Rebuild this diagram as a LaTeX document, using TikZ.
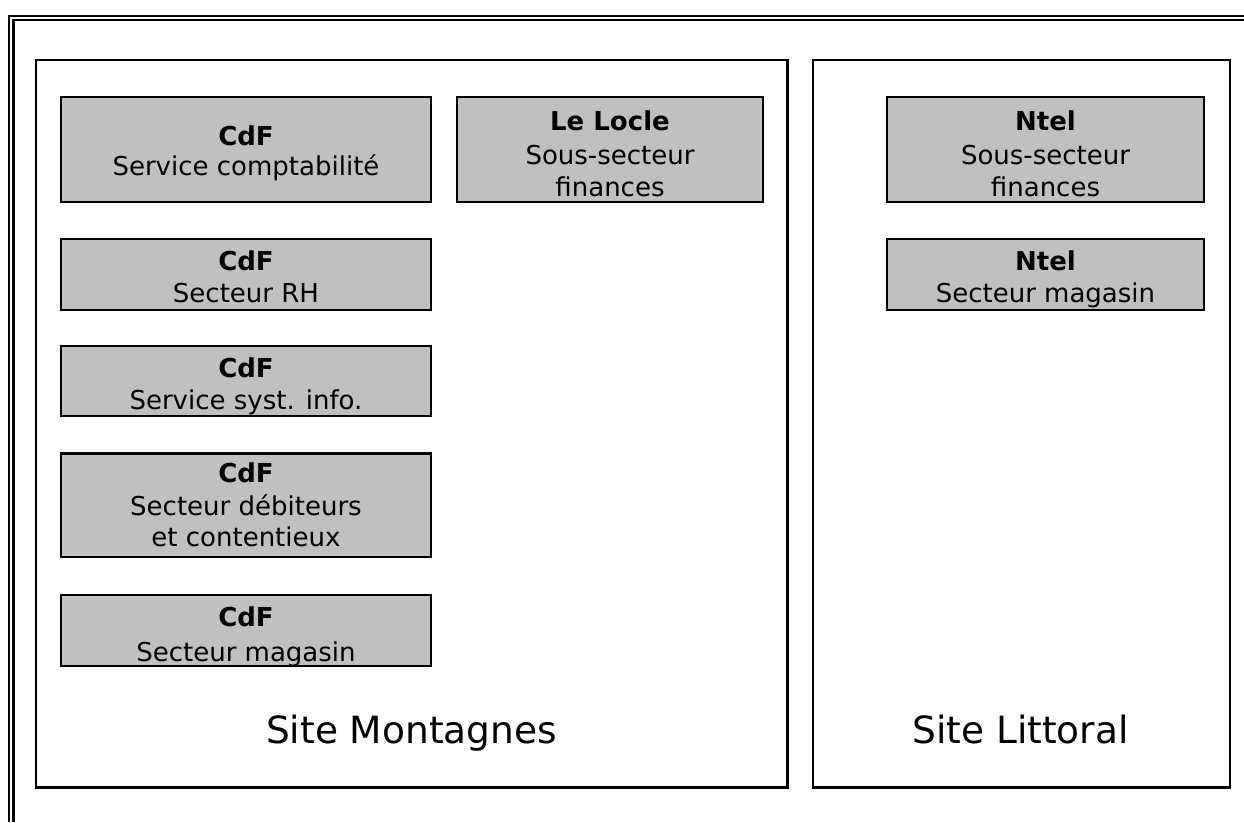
\documentclass[tikz,border=0pt]{standalone}
\usepackage{fontspec}
\setmainfont{DejaVu Sans}
\definecolor{boxgray}{HTML}{C0C0C0}
\tikzset{
  site/.style={draw, line width=2.5pt, inner sep=0pt, outer sep=0pt, anchor=north west},
  gbox/.style={draw, fill=boxgray, line width=2.5pt, inner sep=0pt, outer sep=0pt, anchor=north west},
  ln/.style={anchor=base, inner sep=0pt, font=\fontsize{26}{32}\selectfont},
  bl/.style={anchor=base, inner sep=0pt, font=\fontsize{26}{32}\selectfont\bfseries},
  sitelabel/.style={anchor=base, inner sep=0pt, font=\fontsize{37.5}{45}\selectfont},
  frame/.style={line width=2.5pt}
}
\begin{document}
\begin{tikzpicture}[x=1pt,y=-1pt]
\useasboundingbox (0,0) rectangle (1244,822);
% page frame (double line, top and left)
\coordinate (fo1) at (9,822);
\coordinate (fo2) at (9,16);
\coordinate (fo3) at (1244,16);
\coordinate (fi1) at (13.3,822);
\coordinate (fi2) at (13.3,20.2);
\coordinate (fi3) at (1244,20.2);
\draw[frame] (fo1) -- (fo2) -- (fo3);
\draw[frame] (fi1) -- (fi2) -- (fi3);
% sites
\node[site, minimum width=751.5pt, minimum height=727.5pt] (mont) at (36,60) {};
\node[site, minimum width=417pt, minimum height=727.5pt] (litt) at (813.2,60) {};
% grey boxes
\node[gbox, minimum width=370pt, minimum height=105pt] (comp) at (61,97) {};
\node[gbox, minimum width=306pt, minimum height=105pt] (locle) at (457,97) {};
\node[gbox, minimum width=317pt, minimum height=105pt] (ntfin) at (887,97) {};
\node[gbox, minimum width=370pt, minimum height=71pt] (rh) at (61,239) {};
\node[gbox, minimum width=317pt, minimum height=71pt] (ntmag) at (887,239) {};
\node[gbox, minimum width=370pt, minimum height=70pt] (syst) at (61,346) {};
\node[gbox, minimum width=370pt, minimum height=103.5pt] (deb) at (61,453.7) {};
\node[gbox, minimum width=370pt, minimum height=71pt] (mag) at (61,595) {};
% texts
\node[bl] (comp1) at (246,145.3) {CdF};
\node[ln] (comp2) at (246,175.7) {Service comptabilité};
\node[bl] (locle1) at (610,130.7) {Le Locle};
\node[ln] (locle2) at (610,164) {Sous-secteur};
\node[ln] (locle3) at (610,196) {finances};
\node[bl] (ntfin1) at (1045.5,130.7) {Ntel};
\node[ln] (ntfin2) at (1045.5,164) {Sous-secteur};
\node[ln] (ntfin3) at (1045.5,196) {finances};
\node[bl] (rh1) at (246,270.7) {CdF};
\node[ln] (rh2) at (246,302.3) {Secteur RH};
\node[bl] (ntmag1) at (1045.5,270.7) {Ntel};
\node[ln] (ntmag2) at (1045.5,302.3) {Secteur magasin};
\node[bl] (syst1) at (246,377.7) {CdF};
\node[ln] (syst2) at (246,409.3) {Service syst. info.};
\node[bl] (deb1) at (246,482.7) {CdF};
\node[ln] (deb2) at (246,515.7) {Secteur débiteurs};
\node[ln] (deb3) at (246,546.7) {et contentieux};
\node[bl] (mag1) at (246,626.7) {CdF};
\node[ln] (mag2) at (246,661) {Secteur magasin};
% site labels
\node[sitelabel] (montlab) at (411.5,743.5) {Site Montagnes};
\node[sitelabel] (littlab) at (1020.5,743.5) {Site Littoral};
\end{tikzpicture}
\end{document}
